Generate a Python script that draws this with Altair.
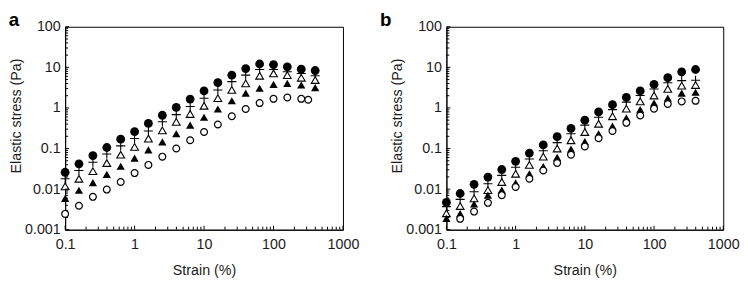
import altair as alt
import pandas as pd

# ---------------- data ----------------
strain = [0.1, 0.158, 0.251, 0.398, 0.631, 1, 1.58, 2.51, 3.98, 6.31, 10,
          15.8, 25.1, 39.8, 63.1, 100, 158, 251, 398]
strain_a_open_circle = [0.1, 0.158, 0.251, 0.398, 0.631, 1, 1.58, 2.51, 3.98,
                        6.31, 10, 15.8, 25.1, 39.8, 63.1, 100, 158, 251, 316]
strain_b_open_circle = [0.158, 0.251, 0.398, 0.631, 1, 1.58, 2.51, 3.98, 6.31,
                        10, 15.8, 25.1, 39.8, 63.1, 100, 158, 251, 398]

a_filled_circle = [0.026, 0.042, 0.067, 0.106, 0.17, 0.26, 0.415, 0.66, 1.03, 1.65,
                   2.63, 4.19, 6.4, 9.35, 12.1, 11.7, 10.3, 9.0, 8.35]
a_cross = [0.018, 0.0288, 0.0458, 0.073, 0.116, 0.176, 0.27, 0.455, 0.685, 1.09,
           1.74, 2.78, 4.44, 6.44, 8.85, 8.85, 7.77, 7.07, 6.2]
a_open_triangle = [0.0117, 0.018, 0.0277, 0.044, 0.0704, 0.110, 0.176, 0.28, 0.455,
                   0.71, 1.13, 1.74, 2.78, 4.04, 6.2, 7.07, 6.44, 5.55, 4.87]
a_filled_triangle = [0.0059, 0.0094, 0.0144, 0.023, 0.0366, 0.058, 0.093, 0.146,
                     0.232, 0.377, 0.59, 0.94, 1.50, 2.31, 3.05, 3.82, 4.04, 3.68, 3.17]
a_open_circle = [0.00245, 0.0039, 0.00646, 0.00974, 0.015, 0.0248, 0.0395, 0.063,
                 0.1, 0.16, 0.255, 0.39, 0.625, 0.94, 1.32, 1.68, 1.81, 1.68, 1.59]

b_filled_circle = [0.0047, 0.0078, 0.0131, 0.0198, 0.0304, 0.0485, 0.0773, 0.123,
                   0.196, 0.313, 0.50, 0.796, 1.2, 1.81, 2.63, 3.82, 5.55, 7.77, 8.85]
b_cross = [0.0037, 0.0056, 0.0086, 0.0136, 0.0218, 0.0347, 0.0553, 0.088, 0.14,
           0.232, 0.377, 0.59, 0.91, 1.39, 2.02, 2.94, 4.19, 4.7, 4.8]
b_open_triangle = [0.00254, 0.00383, 0.00589, 0.0094, 0.015, 0.0239, 0.0395, 0.063,
                   0.1, 0.16, 0.255, 0.407, 0.625, 0.96, 1.45, 2.02, 2.94, 3.54, 3.68]
b_filled_triangle = [0.0019, 0.0025, 0.0043, 0.0071, 0.0095, 0.0142, 0.0239, 0.036,
                     0.0607, 0.0966, 0.149, 0.232, 0.357, 0.569, 0.91, 1.32, 1.75,
                     2.31, 2.44]
b_open_circle = [0.00185, 0.0028, 0.0046, 0.0071, 0.0113, 0.018, 0.0288, 0.044,
                 0.0704, 0.112, 0.179, 0.27, 0.43, 0.65, 0.96, 1.25, 1.45, 1.5]

x_label_values = [0.1, 1, 10, 100, 1000]
y_label_values = [0.001, 0.01, 0.1, 1, 10, 100]
x_minor_ticks = [m * d for d in [0.1, 1, 10, 100] for m in range(2, 10)]
y_minor_ticks = [m * d for d in [0.001, 0.01, 0.1, 1, 10] for m in range(2, 10)]

# ---------------- build the long table ----------------
rows = []


def add(panel, series, xs, ys):
    for x, y in zip(xs, ys):
        rows.append(dict(panel=panel, series=series, strain=x, stress=y))


add("a", "filled_circle", strain, a_filled_circle)
add("a", "cross", strain, a_cross)
add("a", "open_triangle", strain, a_open_triangle)
add("a", "filled_triangle", strain, a_filled_triangle)
add("a", "open_circle", strain_a_open_circle, a_open_circle)
add("b", "filled_circle", strain, b_filled_circle)
add("b", "cross", strain, b_cross)
add("b", "open_triangle", strain, b_open_triangle)
add("b", "filled_triangle", strain, b_filled_triangle)
add("b", "open_circle", strain_b_open_circle, b_open_circle)
df = pd.DataFrame(rows)

xmaj = pd.DataFrame({"strain": x_label_values})
xmin = pd.DataFrame({"strain": x_minor_ticks})
ymaj = pd.DataFrame({"stress": y_label_values})
ymin = pd.DataFrame({"stress": y_minor_ticks})

H = 206
FONT = "Liberation Sans, Arial, sans-serif"
TXT = "#1a1a1a"

styles = {
    "filled_circle": dict(shape="circle", fill="black", strokeWidth=0, size=80),
    "cross": dict(shape="M-1,0L1,0M0,-1L0,1", filled=False, stroke="black",
                  strokeWidth=1.1, size=85),
    "open_triangle": dict(shape="triangle-up", fill="white", stroke="black",
                          strokeWidth=1.1, size=62),
    "filled_triangle": dict(shape="triangle-up", fill="black", strokeWidth=0, size=70),
    "open_circle": dict(shape="circle", fill="white", stroke="black",
                        strokeWidth=1.2, size=48),
}

xsc = alt.Scale(type="log", domain=[0.1, 1000], nice=False)
ysc = alt.Scale(type="log", domain=[0.001, 100], nice=False)
xaxis = alt.Axis(values=x_label_values, format="~g", title="Strain (%)",
                 ticks=False, tickSize=0, grid=False, labelPadding=8,
                 labelFlush=False, titlePadding=13, domainColor="black")
yaxis = alt.Axis(values=y_label_values, format="~g", title="Elastic stress (Pa)",
                 ticks=False, tickSize=0, grid=False, labelPadding=5,
                 labelFlush=False, titlePadding=1, titleY=90, domainColor="black")


def panel(name, width, title_dx):
    layers = []
    for s in ["filled_circle", "cross", "open_triangle", "filled_triangle", "open_circle"]:
        st = dict(styles[s])
        if "filled" not in st:
            st["filled"] = True
        m = alt.Chart(df).transform_filter(
            (alt.datum.panel == name) & (alt.datum.series == s)
        ).mark_point(opacity=1, fillOpacity=1, **st).encode(
            x=alt.X("strain:Q", scale=xsc, axis=xaxis),
            y=alt.Y("stress:Q", scale=ysc, axis=yaxis),
        )
        layers.append(m)
    for d, ln in [(xmin, 3), (xmaj, 4)]:
        layers.append(alt.Chart(d).mark_rule(color="black", strokeWidth=1).encode(
            x=alt.X("strain:Q", scale=xsc, axis=xaxis),
            y=alt.value(H), y2=alt.value(H - ln)))
    for d, ln in [(ymin, 3), (ymaj, 4)]:
        layers.append(alt.Chart(d).mark_rule(color="black", strokeWidth=1).encode(
            y=alt.Y("stress:Q", scale=ysc, axis=yaxis),
            x=alt.value(0), x2=alt.value(ln)))
    return alt.layer(*layers).properties(
        width=width, height=H,
        title=alt.TitleParams(text=name, anchor="start", frame="bounds",
                              fontSize=19, fontWeight="bold", font=FONT,
                              color="black", offset=-11, dx=title_dx),
    )


chart = alt.hconcat(panel("a", 282, 0), panel("b", 281, -10), spacing=105,
                    bounds="flush").properties(padding=0).configure_view(
    stroke="black", strokeWidth=1
).configure_axis(
    labelFont=FONT, titleFont=FONT, labelFontSize=14.5, titleFontSize=14.5,
    titleFontWeight="normal", labelColor=TXT, titleColor=TXT, domainWidth=1
)

chart.save("out.html", embed_options={"renderer": "svg", "actions": False})
